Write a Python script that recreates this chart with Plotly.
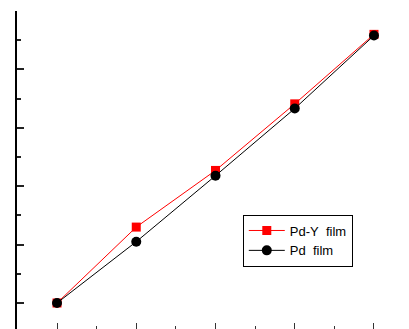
import plotly.graph_objects as go

x_vals = [1, 2, 3, 4, 5]
pdy_film = [0.0, 1.30, 2.27, 3.41, 4.60]
pd_film = [0.0, 1.05, 2.18, 3.33, 4.58]
series_names = ["Pd-Y\u00a0 film", "Pd\u00a0 film"]

fig = go.Figure()
fig.add_trace(go.Scatter(x=x_vals, y=pdy_film, mode="lines+markers", name=series_names[0],
                         line=dict(color="#ff0000", width=1),
                         marker=dict(symbol="square", size=9, color="#ff0000")))
fig.add_trace(go.Scatter(x=x_vals, y=pd_film, mode="lines+markers", name=series_names[1],
                         line=dict(color="#000000", width=1),
                         marker=dict(symbol="circle", size=10, color="#000000")))

fig.update_layout(
    width=409, height=329,
    margin=dict(l=17, r=0, t=11, b=0),
    paper_bgcolor="white", plot_bgcolor="white",
    font=dict(family="Liberation Sans, Arial", size=13, color="black"),
    showlegend=True,
    legend=dict(x=0.576, y=0.36, xanchor="left", yanchor="top",
                bordercolor="black", borderwidth=1, bgcolor="white",
                font=dict(size=13), tracegroupgap=0, itemwidth=36),
    xaxis=dict(range=[0.495, 5.442], showgrid=False, zeroline=False, showline=False,
               ticks="inside", ticklen=6, tickwidth=1, tickcolor="#333",
               tickvals=x_vals, showticklabels=False,
               minor=dict(ticks="inside", ticklen=3, tickwidth=1, tickcolor="#333", dtick=0.5, tick0=0.5)),
    yaxis=dict(range=[-0.445, 5.0], showgrid=False, zeroline=False, showline=True,
               linecolor="black", linewidth=2,
               ticks="inside", ticklen=7, tickwidth=1.5, tickcolor="#222",
               dtick=1, tick0=0, showticklabels=False,
               minor=dict(ticks="inside", ticklen=4, tickwidth=1.5, tickcolor="#222", dtick=0.5, tick0=0.5)),
)

fig.write_html("out.html")
